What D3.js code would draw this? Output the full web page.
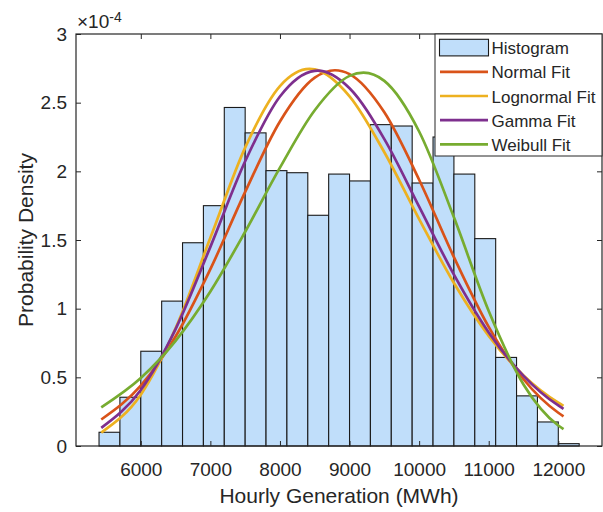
<!DOCTYPE html>
<html>
<head>
<meta charset="utf-8">
<script src="https://cdn.jsdelivr.net/npm/d3@7"></script>
<style>
  html, body { margin: 0; padding: 0; background: #ffffff; }
  svg { display: block; font-family: "Liberation Sans", Arial, Helvetica, sans-serif; }
</style>
</head>
<body>
<div id="chart"></div>
<script>
// Histogram of hourly generation (density, in units of 1e-4 per MWh)
const binEdges = [5400, 5700, 6000, 6300, 6600, 6900, 7200, 7500, 7800, 8100, 8400, 8700,
                  9000, 9300, 9600, 9900, 10200, 10500, 10800, 11100, 11400, 11700, 12000, 12300];
const binDensity = [0.10, 0.355, 0.69, 1.055, 1.48, 1.75, 2.465, 2.28, 2.005, 1.99, 1.68, 1.98,
                    1.93, 2.34, 2.33, 1.915, 2.25, 1.98, 1.51, 0.645, 0.365, 0.175, 0.017];

// Fitted density curves (x in MWh, density in 1e-4)
const normalX = [5432, 6000, 6500, 7000, 7500, 8000, 8500, 8790, 9000, 9500, 10000, 10500, 11000, 11500, 12000, 12075];
const normalY = [0.193, 0.439, 0.797, 1.288, 1.850, 2.363, 2.682, 2.736, 2.708, 2.430, 1.939, 1.375, 0.867, 0.486, 0.242, 0.216];

const lognormalX = [5432, 6000, 6500, 7000, 7500, 8000, 8425, 8500, 9000, 9500, 10000, 10500, 11000, 11500, 12000, 12075];
const lognormalY = [0.098, 0.374, 0.857, 1.516, 2.173, 2.621, 2.746, 2.742, 2.546, 2.139, 1.652, 1.187, 0.802, 0.514, 0.315, 0.292];

const gammaX = [5432, 6000, 6500, 7000, 7500, 8000, 8500, 8540, 9000, 9500, 10000, 10500, 11000, 11500, 12000, 12075];
const gammaY = [0.132, 0.408, 0.851, 1.450, 2.073, 2.545, 2.732, 2.733, 2.605, 2.235, 1.743, 1.248, 0.827, 0.511, 0.295, 0.271];

const weibullX = [5432, 6000, 6500, 7000, 7500, 8000, 8500, 9000, 9201, 9500, 10000, 10500, 11000, 11500, 12000, 12075];
const weibullY = [0.282, 0.495, 0.766, 1.125, 1.560, 2.027, 2.445, 2.695, 2.719, 2.659, 2.290, 1.665, 0.983, 0.448, 0.149, 0.123];

const fitNames = ["Normal Fit", "Lognormal Fit", "Gamma Fit", "Weibull Fit"];
const fitColors = ["#d95319", "#edb120", "#7e2f8e", "#77ac30"];

const xTicks = [6000, 7000, 8000, 9000, 10000, 11000, 12000];
const yTicks = [0, 0.5, 1, 1.5, 2, 2.5, 3];
const yTickLabels = ["0", "0.5", "1", "1.5", "2", "2.5", "3"];

const xLabel = "Hourly Generation (MWh)";
const yLabel = "Probability Density";

// ---- layout ----
const W = 603, H = 512;
const plot = { left: 76, right: 602, top: 34, bottom: 446 };
const axisColor = "#262626";
const barFill = "#c0defa";

const x = d3.scaleLinear().domain([5069, 12628]).range([plot.left, plot.right]);
const y = d3.scaleLinear().domain([0, 3]).range([plot.bottom, plot.top]);

const svg = d3.select("#chart").append("svg")
  .attr("width", W).attr("height", H);

svg.append("rect").attr("x", plot.left).attr("y", plot.top)
  .attr("width", plot.right - plot.left).attr("height", plot.bottom - plot.top)
  .attr("fill", "#ffffff");

// histogram bars
const bins = binDensity.map((v, i) => ({ x0: binEdges[i], x1: binEdges[i + 1], v }));
svg.append("g").selectAll("rect").data(bins).join("rect")
  .attr("x", d => x(d.x0))
  .attr("y", d => y(d.v))
  .attr("width", d => x(d.x1) - x(d.x0))
  .attr("height", d => y(0) - y(d.v))
  .attr("fill", barFill)
  .attr("stroke", "#1a1a1a")
  .attr("stroke-width", 1.1);

// fitted curves
const fits = [
  { xs: normalX, ys: normalY },
  { xs: lognormalX, ys: lognormalY },
  { xs: gammaX, ys: gammaY },
  { xs: weibullX, ys: weibullY }
];
const line = d3.line()
  .x(d => x(d[0])).y(d => y(d[1]))
  .curve(d3.curveMonotoneX);
svg.append("g").selectAll("path").data(fits).join("path")
  .attr("d", f => line(f.xs.map((xv, i) => [xv, f.ys[i]])))
  .attr("fill", "none")
  .attr("stroke", (f, i) => fitColors[i])
  .attr("stroke-width", 2.7)
  .attr("stroke-linejoin", "round");

// axes (ticks point inward on all four sides)
const tickFont = 19;
function styleAxis(g) {
  g.select(".domain").remove();
  g.selectAll(".tick line").attr("stroke", axisColor).attr("stroke-width", 1);
  g.selectAll(".tick text").attr("fill", axisColor).attr("font-size", tickFont)
    .attr("font-family", "'Liberation Sans', Arial, Helvetica, sans-serif");
}

svg.append("g").attr("transform", `translate(0,${plot.bottom})`)
  .call(d3.axisBottom(x).tickValues(xTicks).tickSize(-5).tickPadding(17).tickFormat(d3.format("d")))
  .call(styleAxis);
svg.append("g").attr("transform", `translate(0,${plot.top})`)
  .call(d3.axisTop(x).tickValues(xTicks).tickSize(-5).tickFormat(""))
  .call(styleAxis);
svg.append("g").attr("transform", `translate(${plot.left},0)`)
  .call(d3.axisLeft(y).tickValues(yTicks).tickSize(-5).tickPadding(9)
    .tickFormat((d, i) => yTickLabels[i]))
  .call(styleAxis);
svg.append("g").attr("transform", `translate(${plot.right},0)`)
  .call(d3.axisRight(y).tickValues(yTicks).tickSize(-5).tickFormat(""))
  .call(styleAxis);

// axes box
svg.append("rect").attr("x", plot.left).attr("y", plot.top)
  .attr("width", plot.right - plot.left).attr("height", plot.bottom - plot.top)
  .attr("fill", "none").attr("stroke", axisColor).attr("stroke-width", 1.2);

// exponent label
const expo = svg.append("text").attr("x", 77).attr("y", 28)
  .attr("fill", axisColor).attr("font-size", 19);
expo.append("tspan").text("\u00d710");
expo.append("tspan").attr("dy", -6).attr("font-size", 14).text("-4");

// axis labels
svg.append("text")
  .attr("x", (plot.left + plot.right) / 2).attr("y", 503)
  .attr("text-anchor", "middle").attr("fill", axisColor).attr("font-size", 21)
  .text(xLabel);
svg.append("text")
  .attr("transform", `translate(33,${(plot.top + plot.bottom) / 2}) rotate(-90)`)
  .attr("text-anchor", "middle").attr("fill", axisColor).attr("font-size", 21)
  .text(yLabel);

// legend
const leg = { x: 435, y: 34, w: 167, h: 122 };
const lg = svg.append("g");
lg.append("rect").attr("x", leg.x).attr("y", leg.y).attr("width", leg.w).attr("height", leg.h)
  .attr("fill", "#ffffff").attr("stroke", axisColor).attr("stroke-width", 1);
const rowY = i => 47.6 + i * 24.2;
lg.append("rect").attr("x", 439.5).attr("y", rowY(0) - 8.3).attr("width", 49).attr("height", 16.6)
  .attr("fill", barFill).attr("stroke", "#1a1a1a").attr("stroke-width", 1.1);
lg.append("text").attr("x", 491.5).attr("y", rowY(0) + 6.5)
  .attr("fill", axisColor).attr("font-size", 17).text("Histogram");
fitNames.forEach((name, i) => {
  const cy = rowY(i + 1);
  lg.append("line").attr("x1", 440).attr("x2", 488).attr("y1", cy).attr("y2", cy)
    .attr("stroke", fitColors[i]).attr("stroke-width", 2.7);
  lg.append("text").attr("x", 491.5).attr("y", cy + 6.5)
    .attr("fill", axisColor).attr("font-size", 17).text(name);
});
</script>
</body>
</html>
